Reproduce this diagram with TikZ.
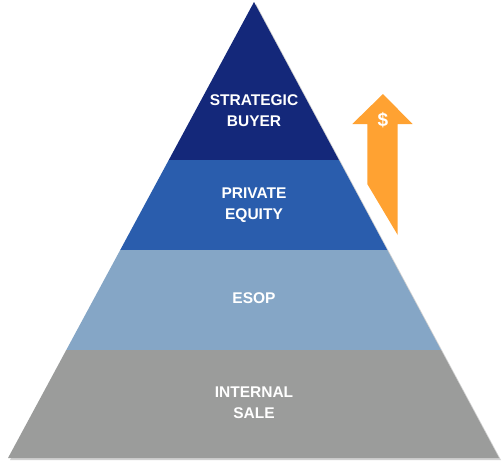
\documentclass[tikz,border=0pt]{standalone}
\usepackage{fontspec}
\setmainfont{Liberation Sans}
\usetikzlibrary{calc}

\definecolor{buyerblue}{HTML}{14287A}
\definecolor{equityblue}{HTML}{2A5DAD}
\definecolor{esopblue}{HTML}{85A6C6}
\definecolor{salegray}{HTML}{9B9C9B}
\definecolor{cashorange}{HTML}{FFA232}

\begin{document}
\begin{tikzpicture}[
    x=1pt, y=-1pt,
    every node/.style={font=\bfseries\fontsize{15.5}{21}\selectfont, text=white, align=center},
    tier/.style={draw=none},
    shade/.style={draw=none, fill=black!18}
  ]
  \useasboundingbox (0,0) rectangle (503,461);

  %------------------ Pyramid corners ------------------%
  \coordinate (apex) at (254,2);
  \coordinate (bl) at (8,458);
  \coordinate (br) at (499,458);

  % Tier borders along both sides
  \coordinate (l1) at ($(apex)!0.3465!(bl)$);
  \coordinate (r1) at ($(apex)!0.3465!(br)$);
  \coordinate (l2) at ($(apex)!0.5439!(bl)$);
  \coordinate (r2) at ($(apex)!0.5439!(br)$);
  \coordinate (l3) at ($(apex)!0.7632!(bl)$);
  \coordinate (r3) at ($(apex)!0.7632!(br)$);

  % Soft shadow
  \fill[shade] ($(apex)+(2,2)$) -- ($(br)+(2,2)$) -- ($(bl)+(2,2)$) -- cycle;

  % Tiers
  \fill[tier, buyerblue] (apex) -- (r1) -- (l1) -- cycle;
  \fill[tier, equityblue] (l1) -- (r1) -- (r2) -- (l2) -- cycle;
  \fill[tier, esopblue] (l2) -- (r2) -- (r3) -- (l3) -- cycle;
  \fill[tier, salegray] (l3) -- (r3) -- (br) -- (bl) -- cycle;

  % Labels
  \node (buyer) at (254,111) {STRATEGIC\\BUYER};
  \node (equity) at (254,205) {PRIVATE\\EQUITY};
  \node (esop) at (254,298) {ESOP};
  \node (sale) at (254,403) {INTERNAL\\SALE};

  %------------------ Value arrow ------------------%
  \fill[cashorange] (383,94) -- (412.5,124) -- (397.7,124) -- (397.7,235)
    -- (367.3,184) -- (367.3,124) -- (352.3,124) -- cycle;
  \node[font=\bfseries\fontsize{19}{19}\selectfont] (cash) at (383,120) {\$};

\end{tikzpicture}
\end{document}
